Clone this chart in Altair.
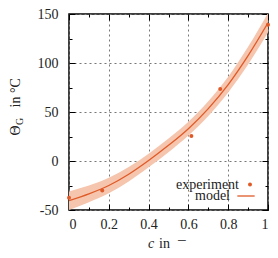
import altair as alt
import pandas as pd

# experiment points
c_exp = [0.0, 0.167, 0.615, 0.76, 1.0]
theta_exp = [-37.5, -30.0, 25.5, 73.5, 139.0]

# model curve
c_model = [0.0, 0.1, 0.2, 0.3, 0.4, 0.5, 0.6, 0.7, 0.8, 0.9, 1.0]
theta_model = [-40.5, -33.5, -25.0, -13.5, 0.5, 16.0, 33.0, 53.5, 78.0, 107.5, 141.0]
band_half = [9.5, 8.5, 8.0, 7.5, 7.0, 7.0, 7.0, 7.5, 8.0, 9.0, 10.0]

x_ticks = [0, 0.2, 0.4, 0.6, 0.8, 1]
x_minor = [0.1, 0.3, 0.5, 0.7, 0.9]
y_ticks = [-50, 0, 50, 100, 150]
y_minor = [-25, 25, 75, 125]

LINE = "#e05a28"
BAND = "#f6c5ad"
TXT = "#222222"
FONT = "Liberation Serif"

model = pd.DataFrame({
    "c": c_model,
    "theta": theta_model,
    "lo": [t - h for t, h in zip(theta_model, band_half)],
    "hi": [t + h for t, h in zip(theta_model, band_half)],
    "series": ["model"] * len(c_model),
})
exp = pd.DataFrame({"c": c_exp, "theta": theta_exp, "series": ["experiment"] * len(c_exp)})

xs = alt.Scale(domain=[0, 1], nice=False, zero=False)
ys = alt.Scale(domain=[-50, 150], nice=False, zero=False)

lab = dict(labelFont=FONT, labelFontSize=14, labelColor=TXT)

ax_bottom = alt.Axis(orient="bottom", values=x_ticks, grid=True, gridDash=[2, 3], gridColor="#777777",
                     gridWidth=1, domain=False, tickSize=6, tickColor="black", offset=-6,
                     labelPadding=7, labelExpr="datum.value", title=None, **lab)
ax_left = alt.Axis(orient="left", values=y_ticks, grid=True, gridDash=[2, 3], gridColor="#777777",
                   gridWidth=1, domain=False, tickSize=6, tickColor="black", offset=-6,
                   labelPadding=11, labelExpr="datum.value", title=None, **lab)
ax_top = alt.Axis(orient="top", values=x_ticks, grid=False, domain=False, tickSize=6,
                  tickColor="black", offset=-6, labels=False, title=None)
ax_right = alt.Axis(orient="right", values=y_ticks, grid=False, domain=False, tickSize=6,
                    tickColor="black", offset=-6, labels=False, title=None)
ax_bottom_m = alt.Axis(orient="bottom", values=x_minor, grid=False, domain=False, tickSize=3,
                       tickColor="black", offset=-3, labels=False, title=None)
ax_left_m = alt.Axis(orient="left", values=y_minor, grid=False, domain=False, tickSize=3,
                     tickColor="black", offset=-3, labels=False, title=None)
ax_top_m = alt.Axis(orient="top", values=x_minor, grid=False, domain=False, tickSize=3,
                    tickColor="black", offset=-3, labels=False, title=None)
ax_right_m = alt.Axis(orient="right", values=y_minor, grid=False, domain=False, tickSize=3,
                      tickColor="black", offset=-3, labels=False, title=None)

leg = dict(orient="none", title=None, labelFont=FONT, labelFontSize=14, labelColor=TXT,
           labelAlign="right", padding=0)

band = alt.Chart(model).mark_area(color=BAND, opacity=1, clip=True, interpolate="monotone").encode(
    x=alt.X("c:Q", scale=xs, axis=ax_bottom),
    y=alt.Y("lo:Q", scale=ys, axis=ax_left),
    y2="hi:Q",
)

line = alt.Chart(model).mark_line(strokeWidth=1.3, interpolate="monotone", clip=True).encode(
    x=alt.X("c:Q", scale=xs, axis=ax_top),
    y=alt.Y("theta:Q", scale=ys, axis=ax_right),
    color=alt.Color("series:N", scale=alt.Scale(domain=["model"], range=[LINE]),
                    legend=alt.Legend(legendX=167.5, legendY=172.5, symbolType="stroke",
                                      symbolSize=300, symbolStrokeWidth=1.3,
                                      labelOffset={"expr": "-25.5"}, **leg)),
)

points = alt.Chart(exp).mark_point(filled=True, size=16, color=LINE, opacity=1, clip=False).encode(
    x=alt.X("c:Q", scale=xs, axis=ax_bottom_m),
    y=alt.Y("theta:Q", scale=ys, axis=ax_left_m),
    shape=alt.Shape("series:N", scale=alt.Scale(domain=["experiment"], range=["circle"]),
                    legend=alt.Legend(legendX=174, legendY=163.5, symbolSize=16,
                                      symbolFillColor=LINE, symbolStrokeWidth=0,
                                      labelOffset={"expr": "-18"}, **leg)),
)

ghost = alt.Chart(model).mark_line(opacity=0).encode(
    x=alt.X("c:Q", scale=xs, axis=ax_top_m),
    y=alt.Y("theta:Q", scale=ys, axis=ax_right_m),
)

def txt(s, x, y, size=14, angle=0, align="left", style="normal", dy=0):
    kw = dict(text=s, font=FONT, fontSize=size, color=TXT, align=align, baseline="alphabetic",
              fontStyle=style, dy=dy)
    if angle:
        kw["angle"] = angle
    return alt.Chart(pd.DataFrame({"a": [0]})).mark_text(**kw).encode(
        x=alt.value(x), y=alt.value(y))

ytitle = [
    txt("Θ", -49, 121.5, size=14, angle=270),
    txt("G", -49, 111, size=10, angle=270, dy=3),
    txt("in °C", -49, 93.5, size=14, angle=270),
]
xtitle = [
    txt("c", 79, 234, size=14, style="italic"),
    txt("in", 90, 234, size=14),
    txt("−", 108, 232, size=17),
]

chart = alt.layer(band, line, points, ghost, *ytitle, *xtitle).resolve_axis(
    x="independent", y="independent"
).resolve_legend(color="independent", shape="independent").properties(
    width=199, height=196,
    autosize=alt.AutoSizeParams(type="none"),
    padding={"left": 61, "top": 6, "right": 2, "bottom": 40},
).configure_view(stroke="black", strokeWidth=1.5)

chart.save("out.html", embed_options={"renderer": "svg", "actions": False})
